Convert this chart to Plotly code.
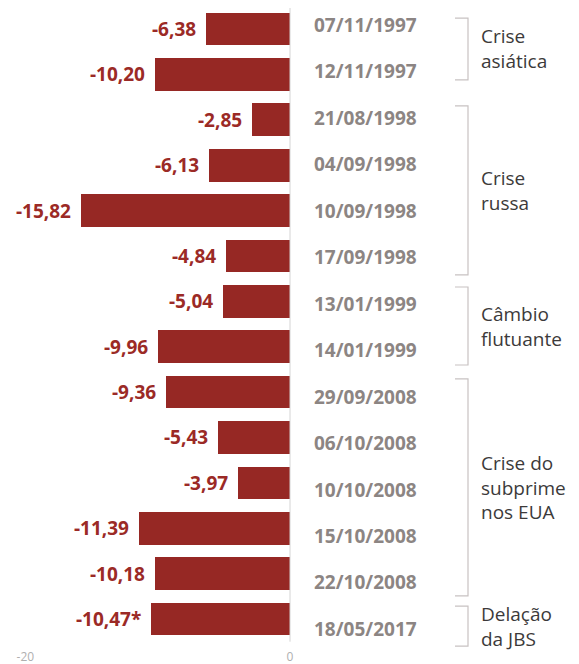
import plotly.graph_objects as go

# ---- data ----
dates = ["07/11/1997", "12/11/1997", "21/08/1998", "04/09/1998", "10/09/1998",
         "17/09/1998", "13/01/1999", "14/01/1999", "29/09/2008", "06/10/2008",
         "10/10/2008", "15/10/2008", "22/10/2008", "18/05/2017"]
values = [-6.38, -10.20, -2.85, -6.13, -15.82, -4.84, -5.04, -9.96, -9.36,
          -5.43, -3.97, -11.39, -10.18, -10.47]
notes = ["", "", "", "", "", "", "", "", "", "", "", "", "", "*"]
group_names = ["Crise\nasiática", "Crise\nrussa", "Câmbio\nflutuante",
               "Crise do\nsubprime\nnos EUA", "Delação\nda JBS"]
group_first = [0, 2, 6, 8, 13]
group_last = [1, 5, 7, 12, 13]
axis_ticks = [-20, 0]

# ---- style / layout tweaks ----
BAR = "rgb(150,40,36)"
VAL = "rgb(155,42,38)"
DATE = "rgb(140,133,131)"
GROUP = "rgb(60,58,58)"
BRACKET = "rgb(200,194,194)"
FONT = "Open Sans"
W, H = 571, 656          # page adds an 8px body margin
bracket_pad_top = [0.15, 0.26, 0.36, 0.38, 0.49]
bracket_pad_bot = [0.18, 0.38, 0.32, 0.29, 0.37]

idx = list(range(len(values)))

fig = go.Figure()
fig.add_trace(go.Bar(
    x=values, y=idx, orientation="h",
    marker=dict(color=BAR, line=dict(width=0)),
    width=0.72, hoverinfo="skip", showlegend=False,
))

ann = []
for i, (v, n) in enumerate(zip(values, notes)):
    ann.append(dict(
        x=v, y=i, xref="x", yref="y", xanchor="right", yanchor="middle",
        xshift=-8, showarrow=False,
        text=f"{v:.2f}".replace(".", ",") + n,
        font=dict(family=FONT, size=19, color=VAL, weight="bold"),
    ))
for i, d in enumerate(dates):
    ann.append(dict(
        x=304 / W, y=i, xref="paper", yref="y2", xanchor="left",
        yanchor="middle", showarrow=False, text=d,
        font=dict(family=FONT, size=19, color=DATE, weight="bold"),
    ))

shapes = [dict(type="line", x0=0, x1=0, y0=-0.5, y1=13.5, xref="x", yref="y",
               line=dict(color="rgb(212,212,212)", width=1))]
xa, xb = 447 / W, 460 / W
for name, f, l, pt, pb in zip(group_names, group_first, group_last,
                              bracket_pad_top, bracket_pad_bot):
    yt, yb = f - pt, l + pb
    shapes.append(dict(
        type="path", xref="paper", yref="y2",
        path=f"M {xa} {yt} L {xb} {yt} L {xb} {yb} L {xa} {yb}",
        line=dict(color=BRACKET, width=1.2),
    ))
    ann.append(dict(
        x=471 / W, y=(yt + yb) / 2, xref="paper", yref="y2",
        xanchor="left", yanchor="middle", align="left", showarrow=False,
        text=name.replace("\n", "<br>"),
        font=dict(family=FONT, size=19, color=GROUP),
    ))

fig.update_layout(
    width=W, height=H,
    margin=dict(l=0, r=0, t=0, b=16),
    paper_bgcolor="white", plot_bgcolor="white",
    bargap=0,
    xaxis=dict(range=[-21.315, 21.84], tickvals=axis_ticks,
               ticktext=[str(t) for t in axis_ticks],
               showgrid=False, zeroline=False, showline=False, ticks="",
               tickfont=dict(family=FONT, size=12, color="rgb(175,175,175)")),
    yaxis=dict(range=[13.639, -0.463], visible=False),
    yaxis2=dict(range=[13.412, -0.366], overlaying="y", visible=False),
    annotations=ann, shapes=shapes,
)

fig.write_html("out.html")
